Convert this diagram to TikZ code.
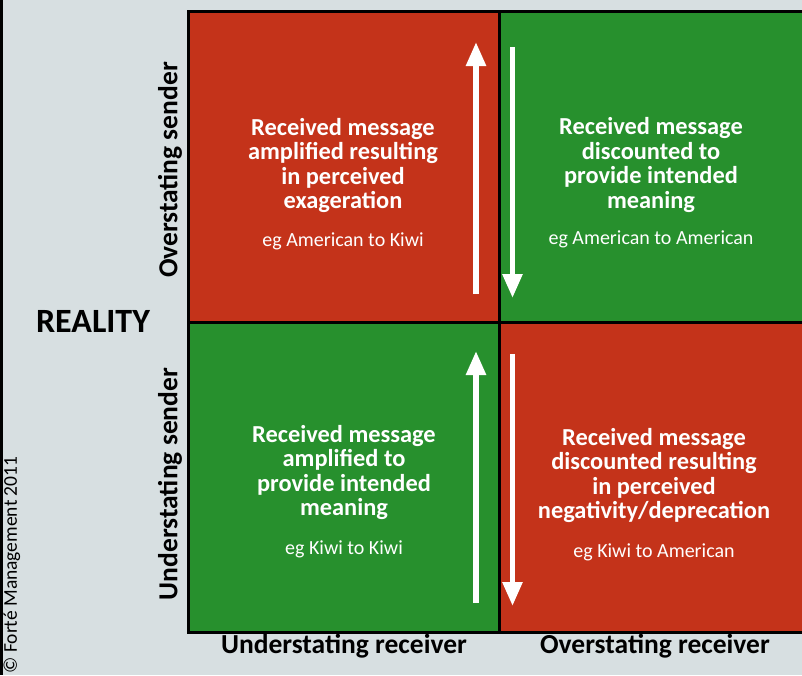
\documentclass[tikz,border=0pt]{standalone}
\usepackage{fontspec}
\setmainfont{Carlito}
\usetikzlibrary{arrows.meta}
\definecolor{bgc}{HTML}{D7DFE1}
\definecolor{redq}{HTML}{C4331A}
\definecolor{greenq}{HTML}{27902D}
\tikzset{
  quad/.style={draw=black,line width=3pt,minimum width=310.5pt,minimum height=310.5pt,inner sep=0pt,anchor=north west},
  qtext/.style={text=white,align=center,font=\fontsize{24.4}{24.5}\selectfont\bfseries,inner sep=0pt},
  qsub/.style={text=white,font=\fontsize{20}{22}\selectfont,inner sep=0pt},
  axis/.style={font=\fontsize{27.5}{30}\selectfont\bfseries,inner sep=0pt},
  warrow/.style={draw=white,line width=5.5pt,-{Triangle[width=19pt,length=24pt]}}
}
\begin{document}
\begin{tikzpicture}[x=1pt,y=-1pt]
\useasboundingbox (0,0) rectangle (802,675);
\fill[bgc] (0,0) rectangle (802,675);
\draw[line width=3pt] (1.5,0) -- (1.5,675);
% quadrants
\node[quad,fill=redq] (tl) at (187,10) {};
\node[quad,fill=greenq] (tr) at (497.5,10) {};
\node[quad,fill=greenq] (bl) at (187,320.5) {};
\node[quad,fill=redq] (br) at (497.5,320.5) {};
% texts
\node[qtext] (tlt) at (343,165.5) {Received message\\amplified resulting\\in perceived\\exageration};
\node[qsub] (tls) at (343,241) {eg American to Kiwi};
\node[qtext] (trt) at (651,165) {Received message\\discounted to\\provide intended\\meaning};
\node[qsub] (trs) at (651,239) {eg American to American};
\node[qtext] (blt) at (344,472.5) {Received message\\amplified to\\provide intended\\meaning};
\node[qsub] (bls) at (344,549) {eg Kiwi to Kiwi};
\node[qtext] (brt) at (654,475.5) {Received message\\discounted resulting\\in perceived\\negativity/deprecation};
\node[qsub] (brs) at (654,552) {eg Kiwi to American};
% arrows
\coordinate (a1s) at (476,294); \coordinate (a1e) at (476,42);
\coordinate (a2s) at (512.5,47); \coordinate (a2e) at (512.5,298);
\coordinate (a3s) at (476,603); \coordinate (a3e) at (476,351);
\coordinate (a4s) at (512.5,354); \coordinate (a4e) at (512.5,606);
\draw[warrow] (a1s) -- (a1e);
\draw[warrow] (a2s) -- (a2e);
\draw[warrow] (a3s) -- (a3e);
\draw[warrow] (a4s) -- (a4e);
% axis labels
\node[axis,font=\fontsize{34}{36}\selectfont\bfseries] (real) at (93,321) {REALITY};
\node[axis,rotate=90] (os) at (170,170) {Overstating sender};
\node[axis,rotate=90] (us) at (170,484) {Understating sender};
\node[axis] (ur) at (344,646) {Understating receiver};
\node[axis] (or) at (655,646) {Overstating receiver};
\node[rotate=90,font=\fontsize{19.5}{22}\selectfont,inner sep=0pt] (copy) at (12,565) {© Forté Management 2011};
\end{tikzpicture}
\end{document}
